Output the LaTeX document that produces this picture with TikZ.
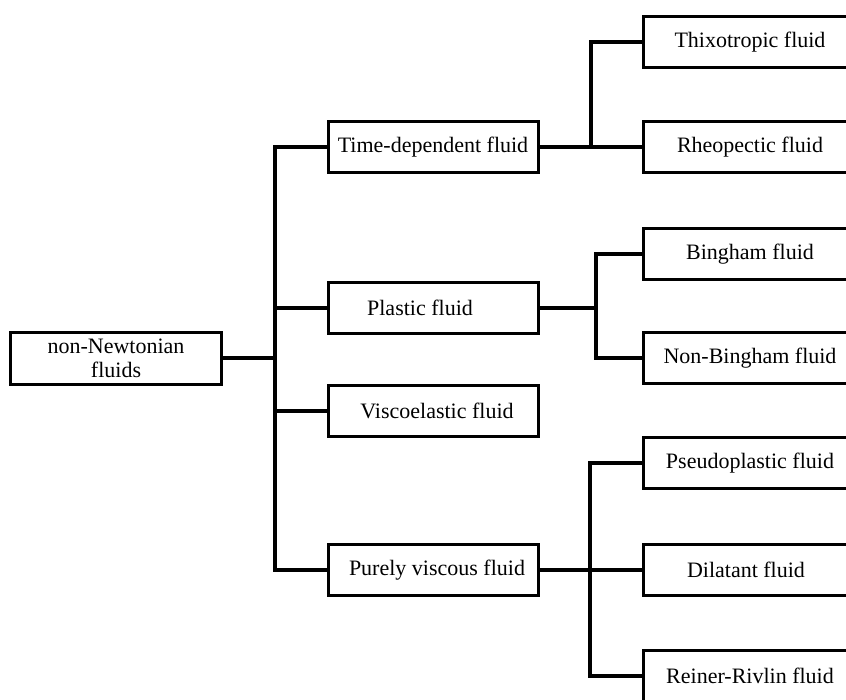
\documentclass[tikz,border=0pt]{standalone}
\usepackage{fontspec}
\setmainfont{Liberation Serif}
\begin{document}
\begin{tikzpicture}[x=1pt,y=-1pt,
  box/.style={draw=black,line width=3pt,rectangle,inner sep=0pt,align=center,
    font=\fontsize{22}{24}\selectfont},
  midbox/.style={box,minimum width=210pt,minimum height=51pt},
  leafbox/.style={box,minimum width=214pt,minimum height=51pt},
  conn/.style={line width=3.2pt,black}]
\useasboundingbox (0,0) rectangle (846,699);
\clip (0,0) rectangle (846,699);
\fill[white] (0,0) rectangle (846,699);
% root
\node[box,minimum width=211pt,minimum height=52pt] (root) at (116,358) {non-Newtonian\hspace{18pt}\\fluids\hspace{18pt}};
% level 1
\node[midbox] (td) at (433,147) {Time-dependent fluid};
\node[midbox] (pl) at (433,308) {Plastic fluid\hspace{26pt}};
\node[midbox] (ve) at (433,411) {\hspace{8pt}Viscoelastic fluid};
\node[midbox] (pv) at (433,570) {\hspace{8pt}Purely viscous fluid};
% leaves
\node[leafbox] (thx) at (750,42) {Thixotropic fluid};
\node[leafbox] (rh) at (750,147) {Rheopectic fluid};
\node[leafbox] (bg) at (750,254) {Bingham fluid};
\node[leafbox] (nb) at (750,358) {Non-Bingham fluid};
\node[leafbox] (ps) at (750,463) {Pseudoplastic fluid};
\node[leafbox] (dl) at (750,570) {\hspace{-8pt}Dilatant fluid};
\node[leafbox] (rr) at (750,676) {Reiner-Rivlin fluid};
% branch coordinates
\coordinate (t) at (275,0);
\coordinate (g1) at (591,0);
\coordinate (g2) at (596,0);
\coordinate (g3) at (590,0);
% trunk
\draw[conn] (root.east) -- (root.east -| t);
\draw[conn] (td.west) -| (t |- pv.west) -- (pv.west);
\draw[conn] (pl.west) -- (pl.west -| t);
\draw[conn] (ve.west) -- (ve.west -| t);
% group 1
\draw[conn] (td.east) -- (rh.west);
\draw[conn] (thx.west) -| (g1 |- rh.west);
% group 2
\draw[conn] (pl.east) -- (pl.east -| g2);
\draw[conn] (bg.west) -| (g2 |- nb.west) -- (nb.west);
% group 3
\draw[conn] (pv.east) -- (dl.west);
\draw[conn] (ps.west) -| (g3 |- rr.west) -- (rr.west);
\end{tikzpicture}
\end{document}
